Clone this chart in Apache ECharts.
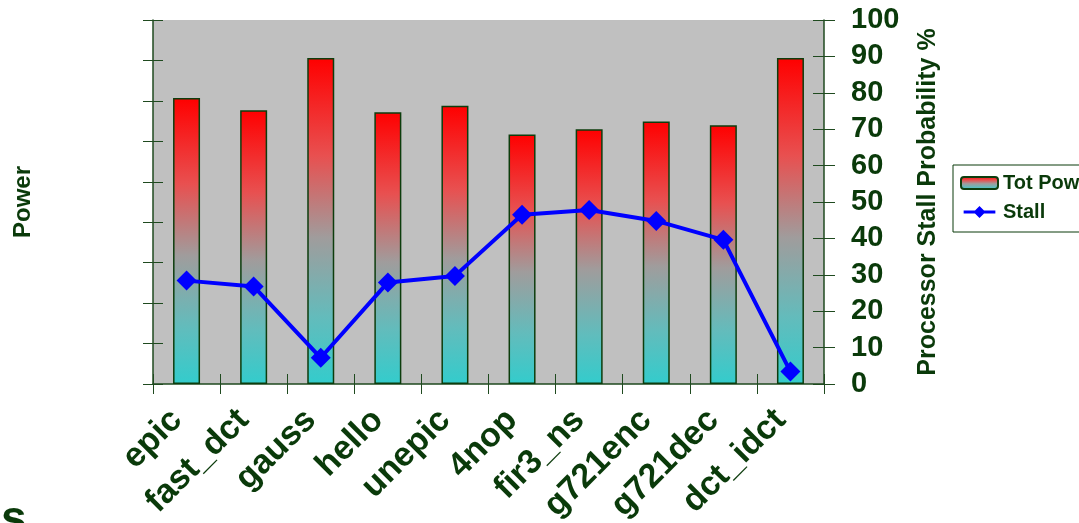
<!DOCTYPE html>
<html>
<head>
<meta charset="utf-8">
<script src="https://cdn.jsdelivr.net/npm/echarts@6/dist/echarts.min.js"></script>
<style>
html,body{margin:0;padding:0;background:#fff;}
#chart{width:1079px;height:523px;}
</style>
</head>
<body>
<div id="chart"></div>
<script>
const categories = ['epic','fast_dct','gauss','hello','unepic','4nop','fir3_ns','g721enc','g721dec','dct_idct'];
const powerValues = [7.07, 6.77, 8.06, 6.72, 6.88, 6.17, 6.30, 6.49, 6.40, 8.06];
const stallValues = [28.4, 26.8, 7.2, 27.9, 29.7, 46.5, 47.8, 44.8, 39.6, 3.4];
const rightTicks = [0,10,20,30,40,50,60,70,80,90,100];

const GREEN = '#0a3a0a';
const AXIS = '#1f4a1f';
const FONT = 'Liberation Sans, Arial, sans-serif';

const chart = echarts.init(document.getElementById('chart'), null, {renderer:'canvas'});
const barColor = new echarts.graphic.LinearGradient(0,0,0,1,[
  {offset:0, color:'#ff0000'},
  {offset:0.3, color:'#e85050'},
  {offset:0.55, color:'#a09c9c'},
  {offset:0.8, color:'#62bcbc'},
  {offset:1, color:'#33cccc'}
]);

const stallIcon = 'path://M0,5.2 L37,5.2 L37,8.8 L0,8.8 Z M18.5,0 L25.5,7 L18.5,14 L11.5,7 Z';

const option = {
  animation:false,
  backgroundColor:'#ffffff',
  grid:{left:153, right:255, top:20, bottom:139, show:true, backgroundColor:'#c0c0c0', borderWidth:0,
        containLabel:false, outerBoundsMode:'none'},
  legend:{
    orient:'vertical', left:953, top:165,
    backgroundColor:'#ffffff', borderColor:GREEN, borderWidth:1,
    padding:[8,10,10,7], itemGap:9, itemWidth:37, itemHeight:12,
    textStyle:{color:GREEN, fontFamily:FONT, fontWeight:'bold', fontSize:20},
    data:[
      {name:'Tot Power'},
      {name:'Stall', icon:stallIcon, itemStyle:{color:'#0000ff', borderWidth:0}}
    ]
  },
  xAxis:[{
    type:'category', data:categories, position:'bottom',
    axisLine:{lineStyle:{color:AXIS, width:1.5}},
    axisTick:{show:true, length:10, inside:false, lineStyle:{color:AXIS}},
    axisLabel:{rotate:45, margin:21, padding:[0,14,0,0], color:GREEN, fontFamily:FONT, fontWeight:'bold', fontSize:34, interval:0}
  },{
    type:'category', data:categories, position:'bottom',
    axisLine:{show:false},
    axisTick:{show:true, length:10, inside:true, lineStyle:{color:AXIS}},
    axisLabel:{show:false}
  }],
  yAxis:[{
    type:'value', position:'left', min:0, max:9, interval:1,
    name:'Power', nameLocation:'middle', nameGap:118, nameRotate:90,
    nameTextStyle:{color:GREEN, fontFamily:FONT, fontWeight:'bold', fontSize:24},
    axisLine:{show:true, lineStyle:{color:AXIS, width:1.5}},
    axisTick:{show:true, length:10, inside:false, lineStyle:{color:AXIS}},
    axisLabel:{show:false}, splitLine:{show:false}
  },{
    type:'value', position:'right', min:0, max:100, interval:10,
    name:'Processor Stall Probability %', nameLocation:'middle', nameGap:92, nameRotate:90,
    nameTextStyle:{color:GREEN, fontFamily:FONT, fontWeight:'bold', fontSize:25},
    axisLine:{show:true, lineStyle:{color:AXIS, width:1.5}},
    axisTick:{show:true, length:11, inside:false, lineStyle:{color:AXIS}},
    axisLabel:{margin:27, color:GREEN, fontFamily:FONT, fontWeight:'bold', fontSize:29,
      formatter:function(v){return rightTicks.indexOf(v)>=0 ? String(v) : '';}},
    splitLine:{show:false}
  },{
    type:'value', position:'left', min:0, max:9, interval:1,
    axisLine:{show:false},
    axisTick:{show:true, length:10, inside:true, lineStyle:{color:AXIS}},
    axisLabel:{show:false}, splitLine:{show:false}
  },{
    type:'value', position:'right', min:0, max:100, interval:10,
    axisLine:{show:false},
    axisTick:{show:true, length:11, inside:true, lineStyle:{color:AXIS}},
    axisLabel:{show:false}, splitLine:{show:false}
  }],
  series:[{
    name:'Tot Power', type:'bar', xAxisIndex:0, yAxisIndex:0, data:powerValues,
    barWidth:27,
    itemStyle:{color:barColor, borderColor:'#0d3d0d', borderWidth:1.5}
  },{
    name:'Stall', type:'line', xAxisIndex:0, yAxisIndex:1, data:stallValues,
    symbol:'diamond', symbolSize:20,
    lineStyle:{color:'#0000ff', width:4},
    itemStyle:{color:'#0000ff'}
  }],
  graphic:[{
    type:'text', left:1, top:497,
    style:{text:'s', fill:GREEN, font:'bold 46px ' + FONT}
  }]
};
chart.setOption(option);
</script>
</body>
</html>
